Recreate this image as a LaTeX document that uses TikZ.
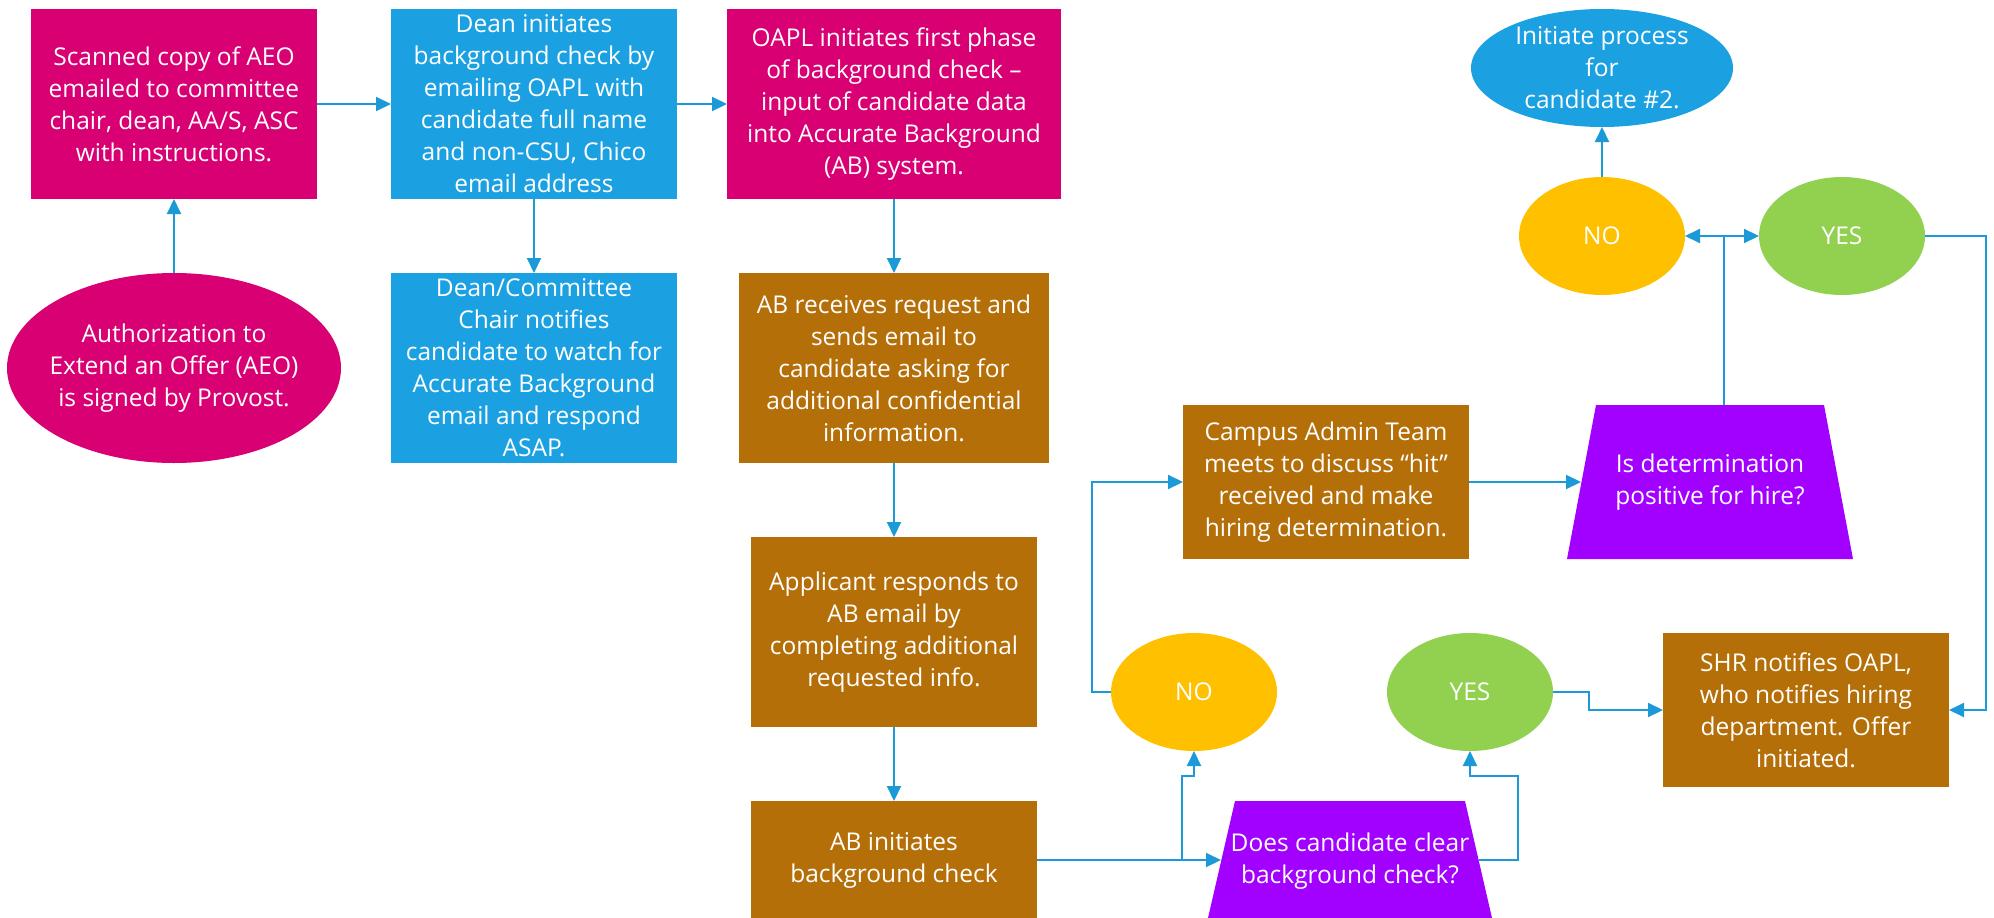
\documentclass[tikz,border=0pt]{standalone}
\usepackage{fontspec}
\setmainfont{Open Sans}
\usetikzlibrary{arrows.meta,calc,shapes.geometric}

\definecolor{cMag}{HTML}{D80073}
\definecolor{cBlue}{HTML}{1BA1E2}
\definecolor{cBrown}{HTML}{B46F08}
\definecolor{cViolet}{HTML}{A200FF}
\definecolor{cAmber}{HTML}{FFC000}
\definecolor{cGreen}{HTML}{92D050}
\definecolor{cLine}{HTML}{1C9AD8}

\begin{document}
\begin{tikzpicture}[x=1pt,y=-1pt,
  box/.style={rectangle, inner sep=0pt, outer sep=0pt, text=white, align=center,
    font=\fontsize{24.5}{32}\selectfont},
  oval/.style={ellipse, inner sep=0pt, outer sep=0pt},
  link/.style={draw=cLine, line width=2pt, -{Triangle[length=15pt,width=14pt]}},
  wire/.style={draw=cLine, line width=2pt}]

\useasboundingbox (0,0) rectangle (1994,918);
\clip (0,0) rectangle (1994,918);

% ---- left column: authorization and notification ----
\node[box, fill=cMag, minimum width=286pt, minimum height=190pt] (scan) at (174,104)
  {Scanned copy of AEO\\emailed to committee\\chair, dean, AA/S, ASC\\with instructions.};
\node[oval, fill=cMag, minimum width=334pt, minimum height=190pt] (aeo) at (174,368) {};
\node[box] (aeo-text) at (aeo) {Authorization to\\Extend an Offer (AEO)\\is signed by Provost.};

\node[box, fill=cBlue, minimum width=286pt, minimum height=190pt] (dean) at (534,104)
  {Dean initiates\\background check by\\emailing OAPL with\\candidate full name\\and non-CSU, Chico\\email address};
\node[box, fill=cBlue, minimum width=286pt, minimum height=190pt] (notify) at (534,368)
  {Dean/Committee\\Chair notifies\\candidate to watch for\\Accurate Background\\email and respond\\ASAP.};

% ---- background check column ----
\node[box, fill=cMag, minimum width=334pt, minimum height=190pt] (oapl) at (894,104)
  {OAPL initiates first phase\\of background check –\\input of candidate data\\into Accurate Background\\(AB) system.};
\node[box, fill=cBrown, minimum width=310pt, minimum height=190pt] (abreq) at (894,368)
  {AB receives request and\\sends email to\\candidate asking for\\additional confidential\\information.};
\node[box, fill=cBrown, minimum width=286pt, minimum height=190pt] (applicant) at (894,632)
  {Applicant responds to\\AB email by\\completing additional\\requested info.};
\node[box, fill=cBrown, minimum width=286pt, minimum height=118pt] (abinit) at (894,860)
  {AB initiates\\background check};

% ---- first decision ----
\fill[cViolet] (1235,801) -- (1465,801) -- (1492,918) -- (1208,918) -- cycle;
\node[box, minimum width=284pt, minimum height=118pt] (clear) at (1350,861)
  {Does candidate clear\\background check?};
\coordinate (clear-in) at (1221,860);
\coordinate (clear-out) at (1479,860);

\node[oval, fill=cAmber, minimum width=166pt, minimum height=118pt] (nolow) at (1194,692) {};
\node[box] (nolow-text) at (nolow) {NO};
\node[oval, fill=cGreen, minimum width=166pt, minimum height=118pt] (yeslow) at (1470,692) {};
\node[box] (yeslow-text) at (yeslow) {YES};

% ---- review and second decision ----
\node[box, fill=cBrown, minimum width=286pt, minimum height=154pt] (campus) at (1326,482)
  {Campus Admin Team\\meets to discuss “hit”\\received and make\\hiring determination.};

\fill[cViolet] (1596,405) -- (1824,405) -- (1853,559) -- (1567,559) -- cycle;
\node[box, minimum width=286pt, minimum height=154pt] (hire) at (1710,482)
  {Is determination\\positive for hire?};
\coordinate (hire-in) at (1581,482);
\coordinate (hire-top) at (1724,405);
\coordinate (split) at (1724,236);

\node[oval, fill=cAmber, minimum width=166pt, minimum height=118pt] (noup) at (1602,236) {};
\node[box] (noup-text) at (noup) {NO};
\node[oval, fill=cGreen, minimum width=166pt, minimum height=118pt] (yesup) at (1842,236) {};
\node[box] (yesup-text) at (yesup) {YES};
\node[oval, fill=cBlue, minimum width=262pt, minimum height=118pt] (init) at (1602,68) {};
\node[box] (init-text) at (init) {Initiate process\\for\\candidate \#2.};

\node[box, fill=cBrown, minimum width=286pt, minimum height=154pt] (shr) at (1806,710)
  {SHR notifies OAPL,\\who notifies hiring\\department. Offer\\initiated.};

% ---- connectors ----
\draw[link] (aeo) -- (scan);
\draw[link] (scan) -- (dean);
\draw[link] (dean) -- (oapl);
\draw[link] (dean) -- (notify);
\draw[link] (oapl) -- (abreq);
\draw[link] (abreq) -- (applicant);
\draw[link] (applicant) -- (abinit);
\draw[link] (abinit.east) -- (clear-in);
\draw[link] (abinit.east) -- ++(145,0) |- ($(nolow.south)+(0,25)$) -- (nolow.south);
\draw[link] (clear-out) -- ++(39,0) |- ($(yeslow.south)+(0,25)$) -- (yeslow.south);
\draw[link] (nolow.west) -- ++(-19,0) |- (campus.west);
\draw[link] (yeslow.east) -- ++(36,0) |- (shr.west);
\draw[link] (campus.east) -- (hire-in);
\draw[wire] (hire-top) -- (split);
\draw[link] (split) -- (noup.east);
\draw[link] (split) -- (yesup.west);
\draw[link] (noup) -- (init);
\draw[link] (yesup.east) -- ++(61,0) |- (shr.east);

\end{tikzpicture}
\end{document}
